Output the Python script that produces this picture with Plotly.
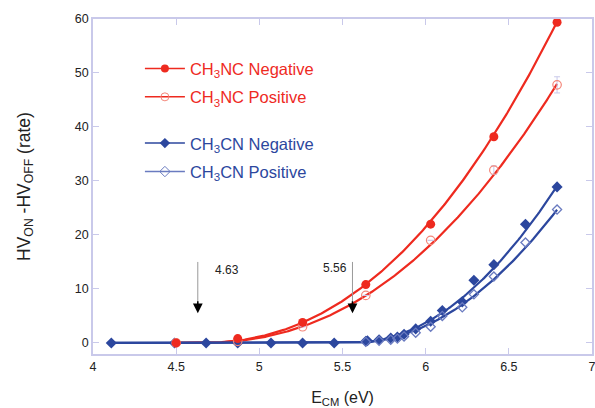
import numpy as np
import plotly.graph_objects as go

# ---- data ----
nc_neg_x = [4.50, 4.87, 5.26, 5.64, 6.03, 6.41, 6.79]
nc_neg_y = [0.0, 0.8, 3.8, 10.8, 22.0, 38.2, 59.4]
nc_pos_x = [4.50, 4.87, 5.26, 5.64, 6.03, 6.41, 6.79]
nc_pos_y = [0.0, 0.3, 3.0, 8.8, 19.0, 32.0, 47.8]
nc_pos_err = [0, 0, 0, 0, 0, 0.8, 1.5]

cn_neg_x = [4.11, 4.49, 4.68, 4.87, 5.07, 5.26, 5.45, 5.64, 5.65, 5.72, 5.79, 5.83, 5.87,
            5.94, 6.03, 6.10, 6.22, 6.29, 6.41, 6.60, 6.79]
cn_neg_y = [0, 0, 0, 0, 0, 0, 0, 0.3, 0.4, 0.6, 0.9, 1.1, 1.6, 2.6, 4.0, 6.0, 7.6,
            11.6, 14.5, 22.0, 28.9]
cn_pos_x = [5.64, 5.72, 5.79, 5.83, 5.87, 5.94, 6.03, 6.10, 6.22, 6.29, 6.41, 6.60, 6.79]
cn_pos_y = [0.2, 0.4, 0.6, 0.8, 1.2, 1.9, 3.0, 5.0, 6.6, 9.0, 12.3, 18.6, 24.7]

# fitted threshold law parameters: y = A * (E - E0)^n  for E > E0
fit_nc_neg = dict(E0=4.63, A=10.6, n=2.24, start=4.50)
fit_nc_pos = dict(E0=4.63, A=8.55, n=2.24, start=4.50)
fit_cn_neg = dict(E0=5.56, A=19.2, n=2.0, start=4.11)
fit_cn_pos = dict(E0=5.56, A=16.3, n=2.0, start=4.11)

thresholds = [4.63, 5.56]
threshold_labels = ["4.63", "5.56"]

RED = "#ee2a1f"
RED_LIGHT = "#f4877a"
BLUE = "#2c479e"
BLUE_LIGHT = "#6a7bc0"
FRAME = "#c9c9ea"
FONT = "Liberation Sans, Arial, sans-serif"


def fit_curve(p, end=6.79):
    xs = np.linspace(p["start"], end, 300)
    ys = p["A"] * np.clip(xs - p["E0"], 0, None) ** p["n"]
    return xs, ys


fig = go.Figure()

for p, col in [(fit_nc_neg, RED), (fit_nc_pos, RED), (fit_cn_neg, BLUE), (fit_cn_pos, BLUE)]:
    xs, ys = fit_curve(p)
    fig.add_trace(go.Scatter(x=xs, y=ys, mode="lines", line=dict(color=col, width=2.2),
                             showlegend=False, hoverinfo="skip"))

fig.add_trace(go.Scatter(x=cn_neg_x, y=cn_neg_y, mode="markers", showlegend=False,
                         marker=dict(symbol="diamond", size=8.5, color=BLUE)))
fig.add_trace(go.Scatter(x=cn_pos_x, y=cn_pos_y, mode="markers", showlegend=False,
                         marker=dict(symbol="diamond-open", size=7, color=BLUE_LIGHT,
                                     line=dict(width=1.3))))
fig.add_trace(go.Scatter(x=nc_pos_x, y=nc_pos_y, mode="markers", showlegend=False,
                         error_y=dict(type="data", array=nc_pos_err, color=FRAME, thickness=1, width=3),
                         marker=dict(symbol="circle-open", size=8.5, color=RED_LIGHT,
                                     line=dict(width=1.2))))
fig.add_trace(go.Scatter(x=nc_neg_x, y=nc_neg_y, mode="markers", showlegend=False,
                         marker=dict(symbol="circle", size=9, color=RED)))

# legend entries (two legends: CH3NC group and CH3CN group)
legend_items = [
    ("CH<sub>3</sub>NC Negative", RED, RED, RED, "circle", "a", "legend"),
    ("CH<sub>3</sub>NC Positive", RED, RED_LIGHT, RED, "circle-open", "b", "legend"),
    ("CH<sub>3</sub>CN Negative", BLUE, BLUE, BLUE, "diamond", "c", "legend2"),
    ("CH<sub>3</sub>CN Positive", BLUE_LIGHT, BLUE_LIGHT, BLUE, "diamond-open", "d", "legend2"),
]
for name, lc, mc, tc, sym, grp, lg in legend_items:
    fig.add_trace(go.Scatter(x=[None], y=[None], mode="lines+markers",
                             name=f'<span style="color:{tc}">{name}</span>',
                             legendgroup=grp, legend=lg,
                             line=dict(color=lc, width=1.5),
                             marker=dict(symbol=sym, size=8, color=mc)))

# threshold arrows
for xv, lab in zip(thresholds, threshold_labels):
    fig.add_shape(type="line", x0=xv, x1=xv, y0=15.0, y1=6.0, xref="x", yref="y",
                  line=dict(color="#9a9a9a", width=1))
    fig.add_annotation(x=xv, y=5.5, ax=xv, ay=8.0, axref="x", ayref="y", xref="x", yref="y",
                       showarrow=True, arrowhead=2, arrowsize=1.3, arrowwidth=1.5,
                       arrowcolor="black", text="")
fig.add_annotation(x=4.72, y=13.5, xref="x", yref="y", text="4.63", showarrow=False,
                   xanchor="left", font=dict(size=12, color="#222", family=FONT))
fig.add_annotation(x=5.54, y=13.9, xref="x", yref="y", text="5.56", showarrow=False,
                   xanchor="right", font=dict(size=12, color="#222", family=FONT))

axis_common = dict(showgrid=False, zeroline=False, showline=True, linecolor=FRAME, linewidth=1.5,
                   mirror="ticks", ticks="inside", tickcolor=FRAME, ticklen=6, tickwidth=1.2,
                   automargin=False, ticklabeloverflow="allow",
                   tickfont=dict(size=12.5, color="#222", family=FONT))

legend_common = dict(xanchor="left", yanchor="top", bgcolor="rgba(0,0,0,0)",
                     traceorder="grouped", tracegroupgap=4, itemwidth=40,
                     font=dict(size=16.5, family=FONT))

fig.update_layout(
    width=595, height=408,
    margin=dict(l=93, r=3, t=19, b=54),
    paper_bgcolor="white", plot_bgcolor="white",
    font=dict(family=FONT, color="#222"),
    xaxis=dict(range=[4, 7], dtick=0.5, tick0=4,
               title=dict(text="E<sub>CM</sub> (eV)", font=dict(size=16, family=FONT), standoff=27),
               **axis_common),
    yaxis=dict(range=[-2.05, 60], dtick=10, tick0=0,
               title=dict(text="HV<sub>ON</sub> -HV<sub>OFF</sub> (rate)", font=dict(size=17.5, family=FONT),
                          standoff=40),
               **axis_common),
    legend=dict(x=0.094, y=0.904, **legend_common),
    legend2=dict(x=0.094, y=0.681, **legend_common),
)

fig.write_html("out.html")
